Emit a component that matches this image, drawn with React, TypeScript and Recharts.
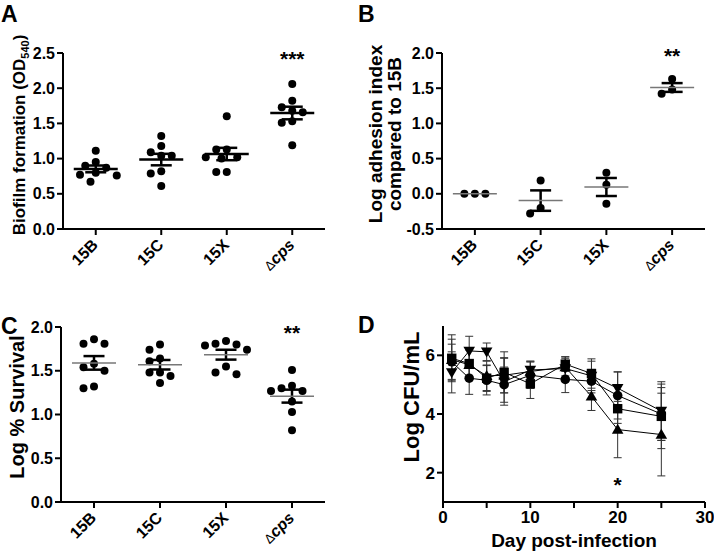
import React from "react";
import {
  ComposedChart,
  ErrorBar,
  Line,
  ReferenceDot,
  Scatter,
  XAxis,
  YAxis,
} from "recharts";

const FONT = "Arial, 'Liberation Sans', Helvetica, sans-serif";

const strains = ["15B", "15C", "15X", "Δcps"];

// A: biofilm formation (OD540)
const biofilm15B = [1.11, 0.9, 0.95, 0.87, 0.77, 0.76, 0.8, 0.67];
const biofilm15C = [1.32, 1.09, 1.18, 1.04, 1.04, 0.82, 0.79, 0.61];
const biofilm15X = [1.6, 1.13, 1.13, 1.02, 1.0, 1.02, 0.81, 0.81];
const biofilmCps = [2.06, 1.82, 1.73, 1.68, 1.66, 1.53, 1.51, 1.19];

// B: log adhesion index compared to 15B
const adhesion15B = [0, 0, 0];
const adhesion15C = [0.19, -0.28, -0.2];
const adhesion15X = [0.3, 0.13, -0.14];
const adhesionCps = [1.63, 1.42, 1.48];

// C: log % survival
const survival15B = [1.86, 1.81, 1.81, 1.54, 1.5, 1.58, 1.3, 1.32];
const survival15C = [1.74, 1.8, 1.64, 1.61, 1.48, 1.44, 1.48, 1.36];
const survival15X = [1.81, 1.79, 1.74, 1.8, 1.84, 1.55, 1.46, 1.48];
const survivalCps = [1.51, 1.3, 1.27, 1.27, 1.33, 1.15, 1.03, 0.82];

// significance marks (placed over the Δcps column / day 20)
const sigA = { text: "***", y: 2.42 };
const sigB = { text: "**", y: 1.96 };
const sigC = { text: "**", y: 1.94 };
const sigD = { text: "*", day: 20, y: 1.61 };

// D: log CFU/mL over time, four strains (mean ± error)
const days = [1, 3, 5, 7, 10, 14, 17, 20, 25];
const cfuCircle = [5.78, 5.22, 5.15, 5.0, 5.32, 5.18, 5.12, 4.63, 4.0];
const cfuCircleErr = [0.6, 0.55, 0.5, 0.6, 0.45, 0.45, 0.4, 0.8, 0.9];
const cfuSquare = [5.9, 5.72, 5.22, 5.42, 5.03, 5.7, 5.38, 4.18, 3.92];
const cfuSquareErr = [0.8, 0.5, 0.45, 0.7, 0.5, 0.25, 0.5, 0.5, 1.1];
const cfuTriUp = [5.85, 5.68, 5.3, 5.32, 5.45, 5.6, 4.6, 3.47, 3.3];
const cfuTriUpErr = [0.7, 0.5, 0.5, 0.6, 0.35, 0.3, 0.48, 0.96, 1.41];
const cfuTriDown = [5.42, 6.15, 6.12, 5.1, 5.5, 5.55, 5.3, 4.88, 4.1];
const cfuTriDownErr = [0.7, 0.5, 0.3, 0.8, 0.3, 0.4, 0.5, 0.56, 1.0];

const mean = (v: number[]) => v.reduce((s, x) => s + x, 0) / v.length;
const sem = (v: number[]) => {
  const m = mean(v);
  const sd = Math.sqrt(v.reduce((s, x) => s + (x - m) ** 2, 0) / (v.length - 1));
  return sd / Math.sqrt(v.length);
};

/** Prism-style column scatter: spread points sideways so they don't overlap. */
function swarm(values: number[], center: number, pxPerUnit: number, pxPerCat: number) {
  const step = 5.25;
  const minDist = 9.5;
  const placed: { dx: number; py: number }[] = [];
  [...values]
    .sort((a, b) => b - a)
    .forEach((v) => {
      const py = v * pxPerUnit;
      for (let k = 0; k < 40; k++) {
        const dx = k === 0 ? 0 : (k % 2 ? -1 : 1) * Math.ceil(k / 2) * step;
        if (placed.every((p) => Math.hypot(p.dx - dx, p.py - py) >= minDist)) {
          placed.push({ dx, py });
          break;
        }
      }
    });
  return placed.map((p) => ({ x: center + p.dx / pxPerCat, y: p.py / pxPerUnit }));
}

const axisStroke = { stroke: "#000", strokeWidth: 2 };
const tickFont = { fontSize: 16, fontWeight: 700, fill: "#000", fontFamily: FONT };

function StrainTick({ x, y, payload }: any) {
  const name = strains[Math.floor(payload.value)];
  return (
    <g transform={`translate(${x},${y})`}>
      <text
        x={-4}
        y={8.5}
        transform="rotate(-45)"
        textAnchor="end"
        fontSize={16}
        fontWeight={700}
        fill="#000"
        fontFamily={FONT}
      >
        {name === "Δcps" ? (
          <>
            <tspan fontWeight={400} fontSize={13}>
              Δ
            </tspan>
            <tspan fontStyle="italic">cps</tspan>
          </>
        ) : (
          name
        )}
      </text>
    </g>
  );
}

interface Box {
  left: number;
  top: number;
  width: number;
  height: number;
}
interface Margin {
  top: number;
  right: number;
  bottom: number;
  left: number;
}

const Y_W = 45;
const X_H = 40;

interface DotPanelProps {
  box: Box;
  margin: Margin;
  domain: [number, number];
  ticks: number[];
  groups: number[][];
  sig: { text: string; y: number };
  meanColor: string;
  meanStroke: number;
  title: React.ReactNode;
  titleX: number;
  titleY: number;
  titleSize: number;
}

function DotPanel(p: DotPanelProps) {
  const plotW = p.box.width - p.margin.left - p.margin.right - Y_W;
  const plotH = p.box.height - p.margin.top - p.margin.bottom - X_H;
  const ppu = plotH / (p.domain[1] - p.domain[0]);
  const ppc = plotW / p.groups.length;
  const dots = p.groups.flatMap((g, i) => swarm(g, i + 0.5, ppu, ppc));
  const means = p.groups.map((g, i) => ({ x: i + 0.5, y: mean(g), sem: sem(g) }));
  const meanW = 44;

  return (
    <div style={{ position: "absolute", left: p.box.left, top: p.box.top }}>
      <ComposedChart width={p.box.width} height={p.box.height} margin={p.margin}>
        <XAxis
          type="number"
          dataKey="x"
          domain={[0, p.groups.length]}
          ticks={p.groups.map((_, i) => i + 0.5)}
          tick={<StrainTick />}
          axisLine={axisStroke}
          tickLine={axisStroke}
          tickSize={6}
          height={X_H}
          interval={0}
        />
        <YAxis
          type="number"
          dataKey="y"
          domain={p.domain}
          ticks={p.ticks}
          tickFormatter={(v: number) => v.toFixed(1)}
          tick={tickFont}
          axisLine={axisStroke}
          tickLine={axisStroke}
          tickSize={6}
          width={Y_W}
          label={{
            content: () => (
              <text
                transform={`translate(${p.titleX},${p.titleY}) rotate(-90)`}
                textAnchor="middle"
                fontSize={p.titleSize}
                fontWeight={700}
                fill="#000"
                fontFamily={FONT}
              >
                {p.title}
              </text>
            ),
          }}
        />
        <Scatter
          data={dots}
          dataKey="y"
          isAnimationActive={false}
          shape={(s: any) => <circle cx={s.cx} cy={s.cy} r={4} fill="#000" />}
        />
        <Scatter
          data={means}
          dataKey="y"
          isAnimationActive={false}
          shape={(s: any) => (
            <line
              x1={s.cx - meanW / 2}
              x2={s.cx + meanW / 2}
              y1={s.cy}
              y2={s.cy}
              stroke={p.meanColor}
              strokeWidth={p.meanStroke}
            />
          )}
        >
          <ErrorBar dataKey="sem" direction="y" width={10.5} stroke="#000" strokeWidth={2.5} />
        </Scatter>
        <ReferenceDot
          x={p.groups.length - 0.5}
          y={p.sig.y}
          r={1}
          fill="none"
          stroke="none"
          label={{
            value: p.sig.text,
            position: "center",
            fontSize: 21,
            fontWeight: 700,
            fill: "#000",
            fontFamily: FONT,
          }}
        />
      </ComposedChart>
    </div>
  );
}

type MarkerKind = "circle" | "square" | "up" | "down";

function Marker({ kind, cx, cy }: { kind: MarkerKind; cx: number; cy: number }) {
  if (kind === "circle") return <circle cx={cx} cy={cy} r={4.8} fill="#000" />;
  if (kind === "square") return <rect x={cx - 4.7} y={cy - 4.7} width={9.4} height={9.4} fill="#000" />;
  const s = kind === "up" ? 1 : -1;
  return (
    <path
      d={`M${cx},${cy - 5.8 * s} L${cx + 5.8},${cy + 4.2 * s} L${cx - 5.8},${cy + 4.2 * s} Z`}
      fill="#000"
    />
  );
}

const cfuSeries: { kind: MarkerKind; values: number[]; err: number[] }[] = [
  { kind: "up", values: cfuTriUp, err: cfuTriUpErr },
  { kind: "square", values: cfuSquare, err: cfuSquareErr },
  { kind: "circle", values: cfuCircle, err: cfuCircleErr },
  { kind: "down", values: cfuTriDown, err: cfuTriDownErr },
];

function DayTick({ x, y, payload }: any) {
  if (payload.value % 10 !== 0) return <g />;
  return (
    <text x={x} y={y} dy="0.75em" textAnchor="middle" {...tickFont} fontSize={17}>
      {payload.value}
    </text>
  );
}

function SurvivalCurvePanel({ box, margin }: { box: Box; margin: Margin }) {
  const plotW = box.width - margin.left - margin.right - Y_W;
  return (
    <div style={{ position: "absolute", left: box.left, top: box.top }}>
      <ComposedChart width={box.width} height={box.height} margin={margin}>
        <XAxis
          type="number"
          dataKey="x"
          domain={[0, 30]}
          ticks={[0, 5, 10, 15, 20, 25, 30]}
          tick={<DayTick />}
          axisLine={axisStroke}
          tickLine={axisStroke}
          tickSize={6}
          height={X_H}
          interval={0}
          label={{
            content: () => (
              <text
                x={margin.left + Y_W + plotW / 2}
                y={box.height - 5}
                textAnchor="middle"
                fontSize={19}
                fontWeight={700}
                fill="#000"
                fontFamily={FONT}
              >
                Day post-infection
              </text>
            ),
          }}
        />
        <YAxis
          type="number"
          domain={[1, 7]}
          ticks={[2, 4, 6]}
          tick={{ ...tickFont, fontSize: 17 }}
          axisLine={axisStroke}
          tickLine={axisStroke}
          tickSize={6}
          width={Y_W}
          label={{
            content: () => (
              <text
                transform={`translate(54,${margin.top + 71}) rotate(-90)`}
                dy="0.35em"
                textAnchor="middle"
                fontSize={22}
                fontWeight={700}
                fill="#000"
                fontFamily={FONT}
              >
                Log CFU/mL
              </text>
            ),
          }}
        />
        {cfuSeries.map((s) => (
          <Line
            key={s.kind}
            data={days.map((d, i) => ({ x: d, y: s.values[i], e: s.err[i] }))}
            dataKey="y"
            stroke="#000"
            strokeWidth={1}
            isAnimationActive={false}
            dot={(d: any) => <Marker key={`${s.kind}-${d.index}`} kind={s.kind} cx={d.cx} cy={d.cy} />}
          >
            <ErrorBar dataKey="e" direction="y" width={4} stroke="#333" strokeWidth={1} />
          </Line>
        ))}
        <ReferenceDot
          x={sigD.day}
          y={sigD.y}
          r={1}
          fill="none"
          stroke="none"
          label={{
            value: sigD.text,
            position: "center",
            fontSize: 21,
            fontWeight: 700,
            fill: "#000",
            fontFamily: FONT,
          }}
        />
      </ComposedChart>
    </div>
  );
}

const letterStyle = { fontSize: 23, fontWeight: 700, fill: "#000", fontFamily: FONT };

export default function App() {
  return (
    <div
      style={{
        position: "absolute",
        left: 0,
        top: 0,
        width: 714,
        height: 552,
        background: "#fff",
        overflow: "hidden",
      }}
    >
      <DotPanel
        box={{ left: 0, top: 0, width: 340, height: 276 }}
        margin={{ top: 53, right: 15, bottom: 7, left: 18 }}
        domain={[0, 2.5]}
        ticks={[0, 0.5, 1, 1.5, 2, 2.5]}
        groups={[biofilm15B, biofilm15C, biofilm15X, biofilmCps]}
        sig={sigA}
        meanColor="#000"
        meanStroke={2.5}
        titleX={25}
        titleY={135}
        titleSize={17}
        title={
          <>
            Biofilm formation (OD
            <tspan dy={4} fontSize={11}>
              540
            </tspan>
            <tspan dy={-4}>)</tspan>
          </>
        }
      />
      <DotPanel
        box={{ left: 357, top: 0, width: 357, height: 276 }}
        margin={{ top: 53, right: 9, bottom: 7, left: 40 }}
        domain={[-0.5, 2]}
        ticks={[-0.5, 0, 0.5, 1, 1.5, 2]}
        groups={[adhesion15B, adhesion15C, adhesion15X, adhesionCps]}
        sig={sigB}
        meanColor="#777"
        meanStroke={1.5}
        titleX={25}
        titleY={134}
        titleSize={19}
        title={
          <>
            <tspan x={0} dy={0}>
              Log adhesion index
            </tspan>
            <tspan x={0} dy={19}>
              compared to 15B
            </tspan>
          </>
        }
      />
      <DotPanel
        box={{ left: 0, top: 276, width: 340, height: 276 }}
        margin={{ top: 51, right: 15, bottom: 10, left: 16 }}
        domain={[0, 2]}
        ticks={[0, 0.5, 1, 1.5, 2]}
        groups={[survival15B, survival15C, survival15X, survivalCps]}
        sig={sigC}
        meanColor="#777"
        meanStroke={1.5}
        titleX={24}
        titleY={131}
        titleSize={20}
        title="Log % Survival"
      />
      <SurvivalCurvePanel
        box={{ left: 357, top: 276, width: 357, height: 276 }}
        margin={{ top: 50, right: 9, bottom: 10, left: 41 }}
      />
      <svg
        width={714}
        height={552}
        style={{ position: "absolute", left: 0, top: 0, pointerEvents: "none" }}
      >
        <text x={1} y={22} {...letterStyle}>A</text>
        <text x={358} y={22} {...letterStyle}>B</text>
        <text x={1} y={334} {...letterStyle}>C</text>
        <text x={358} y={333} {...letterStyle}>D</text>
      </svg>
    </div>
  );
}
